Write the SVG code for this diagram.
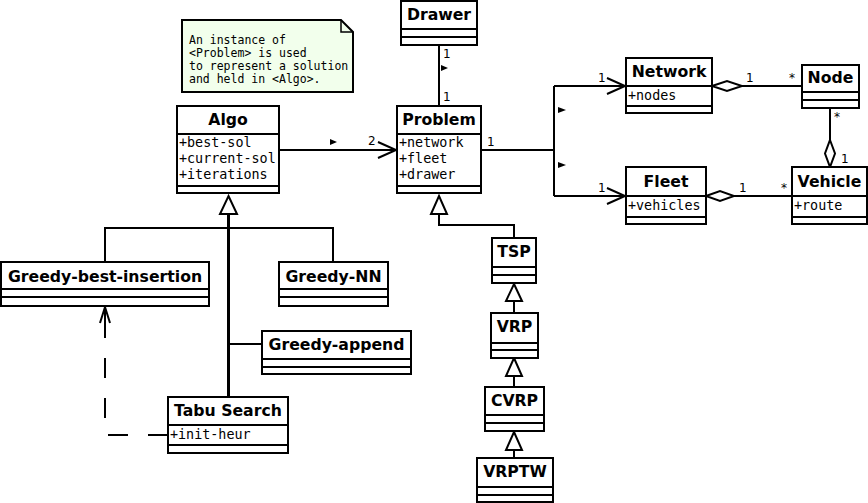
<svg xmlns="http://www.w3.org/2000/svg" width="868" height="503" viewBox="0 0 868 503">
<style>
.box{fill:#fff;stroke:#000;stroke-width:2}
.div{stroke:#000;stroke-width:2}
.hd{font-family:"DejaVu Sans",sans-serif;font-weight:bold;font-size:15.7px;text-anchor:middle;fill:#000}
.at{font-family:"DejaVu Sans Mono",monospace;font-size:13.4px;fill:#000}
.nt{font-family:"DejaVu Sans Mono",monospace;font-size:11.5px;fill:#000}
.lb{font-family:"DejaVu Sans",sans-serif;font-size:12px;fill:#000}
.ln{fill:none;stroke:#000;stroke-width:2}
.tri{fill:#fff;stroke:#000;stroke-width:2}
.dia{fill:#fff;stroke:#000;stroke-width:2}
.mk{fill:#000}
</style>
<rect width="868" height="503" fill="#fff"/>
<g id="note">
<path d="M182,20 H341 L353,32 V92 H182 Z" fill="#f2ffec" stroke="#000" stroke-width="2"/>
<path d="M341,20 V32 H353" fill="none" stroke="#000" stroke-width="1.5"/>
<text class="nt" x="189" y="44">An instance of</text>
<text class="nt" x="189" y="57">&lt;Problem&gt; is used</text>
<text class="nt" x="189" y="70">to represent a solution</text>
<text class="nt" x="189" y="83">and held in &lt;Algo&gt;.</text>
</g>
<g id="connectors">
<line class="ln" x1="439" y1="45" x2="439" y2="106"/>
<polygon class="mk" points="441,65 448,68 441,71"/>
<text class="lb" x="443" y="58">1</text>
<text class="lb" x="443" y="101">1</text>
<line class="ln" x1="279" y1="150" x2="396" y2="150"/>
<polyline class="ln" points="378,142 396,150 378,158"/>
<polygon class="mk" points="330,139 337,142 330,145"/>
<text class="lb" x="368" y="145">2</text>
<path class="ln" d="M481,150 H554 M554,86 V196 M554,86 H625 M554,196 H625"/>
<polyline class="ln" points="607,78 625,86 607,94"/>
<polyline class="ln" points="607,188 625,196 607,204"/>
<polygon class="mk" points="558,107 566,110 558,113"/>
<polygon class="mk" points="558,162 566,165 558,168"/>
<text class="lb" x="487" y="146">1</text>
<text class="lb" x="598" y="82">1</text>
<text class="lb" x="598" y="192">1</text>
<line class="ln" x1="742" y1="86" x2="802" y2="86"/>
<polygon class="dia" points="712,86 727,81 742,86 727,91"/>
<text class="lb" x="746" y="82">1</text>
<text class="lb" x="789" y="82">*</text>
<line class="ln" x1="734" y1="196" x2="792" y2="196"/>
<polygon class="dia" points="706,196 720,191 734,196 720,201"/>
<text class="lb" x="739" y="192">1</text>
<text class="lb" x="781" y="192">*</text>
<line class="ln" x1="830" y1="108" x2="830" y2="140"/>
<polygon class="dia" points="830,140 835,153.5 830,167 825,153.5"/>
<text class="lb" x="834" y="121">*</text>
<text class="lb" x="841" y="163">1</text>
<line x1="228.5" y1="214" x2="228.5" y2="397" stroke="#000" stroke-width="3"/>
<path class="ln" d="M105,262 V228 H333 V262 M228,344 H262"/>
<polygon class="tri" points="228.5,196 237,214 220,214"/>
<path class="ln" d="M439,214 V225 H514 V238"/>
<polygon class="tri" points="439,196 447,214 431,214"/>
<line class="ln" x1="514" y1="301" x2="514" y2="313"/>
<polygon class="tri" points="514,284 522,301 506,301"/>
<line class="ln" x1="514" y1="376" x2="514" y2="387"/>
<polygon class="tri" points="514,358 522,376 506,376"/>
<line class="ln" x1="514" y1="450" x2="514" y2="458"/>
<polygon class="tri" points="514,432 522,450 506,450"/>
<path class="ln" d="M168,435 H105 V307" stroke-dasharray="20,20"/>
<path class="ln" d="M100,323 L105,307 L110,323 M105,307 V322"/>
</g>
<g id="Drawer">
<rect class="box" x="401" y="1" width="76" height="44"/>
<line class="div" x1="401" y1="29" x2="477" y2="29"/>
<line class="div" x1="401" y1="37" x2="477" y2="37"/>
<text class="hd" x="439" y="20">Drawer</text>
</g>
<g id="Algo">
<rect class="box" x="177" y="106" width="102" height="87"/>
<line class="div" x1="177" y1="134" x2="279" y2="134"/>
<line class="div" x1="177" y1="186" x2="279" y2="186"/>
<text class="hd" x="228" y="125">Algo</text>
<text class="at" x="179" y="147">+best-sol</text>
<text class="at" x="179" y="163">+current-sol</text>
<text class="at" x="179" y="179">+iterations</text>
</g>
<g id="Problem">
<rect class="box" x="397" y="106" width="84" height="87"/>
<line class="div" x1="397" y1="134" x2="481" y2="134"/>
<line class="div" x1="397" y1="186" x2="481" y2="186"/>
<text class="hd" x="439" y="125">Problem</text>
<text class="at" x="399" y="147">+network</text>
<text class="at" x="399" y="163">+fleet</text>
<text class="at" x="399" y="179">+drawer</text>
</g>
<g id="Network">
<rect class="box" x="626" y="58" width="86" height="55"/>
<line class="div" x1="626" y1="86" x2="712" y2="86"/>
<line class="div" x1="626" y1="106" x2="712" y2="106"/>
<text class="hd" x="669" y="77">Network</text>
<text class="at" x="628" y="100">+nodes</text>
</g>
<g id="Node">
<rect class="box" x="802" y="65" width="57" height="43"/>
<line class="div" x1="802" y1="92" x2="859" y2="92"/>
<line class="div" x1="802" y1="100" x2="859" y2="100"/>
<text class="hd" x="830.5" y="83">Node</text>
</g>
<g id="Fleet">
<rect class="box" x="626" y="167" width="80" height="57"/>
<line class="div" x1="626" y1="196" x2="706" y2="196"/>
<line class="div" x1="626" y1="217" x2="706" y2="217"/>
<text class="hd" x="666" y="187">Fleet</text>
<text class="at" x="628" y="210">+vehicles</text>
</g>
<g id="Vehicle">
<rect class="box" x="792" y="167" width="75" height="57"/>
<line class="div" x1="792" y1="196" x2="867" y2="196"/>
<line class="div" x1="792" y1="217" x2="867" y2="217"/>
<text class="hd" x="829.5" y="187">Vehicle</text>
<text class="at" x="794" y="210">+route</text>
</g>
<g id="Greedy-best-insertion">
<rect class="box" x="1" y="262" width="208" height="44"/>
<line class="div" x1="1" y1="289" x2="209" y2="289"/>
<line class="div" x1="1" y1="297" x2="209" y2="297"/>
<text class="hd" x="105" y="282">Greedy-best-insertion</text>
</g>
<g id="Greedy-NN">
<rect class="box" x="279" y="262" width="109" height="44"/>
<line class="div" x1="279" y1="289" x2="388" y2="289"/>
<line class="div" x1="279" y1="297" x2="388" y2="297"/>
<text class="hd" x="333.5" y="282">Greedy-NN</text>
</g>
<g id="Greedy-append">
<rect class="box" x="262" y="331" width="149" height="43"/>
<line class="div" x1="262" y1="359" x2="411" y2="359"/>
<line class="div" x1="262" y1="367" x2="411" y2="367"/>
<text class="hd" x="336.5" y="350">Greedy-append</text>
</g>
<g id="TabuSearch">
<rect class="box" x="168" y="397" width="120" height="56"/>
<line class="div" x1="168" y1="425" x2="288" y2="425"/>
<line class="div" x1="168" y1="445" x2="288" y2="445"/>
<text class="hd" x="228" y="416">Tabu Search</text>
<text class="at" x="170" y="439">+init-heur</text>
</g>
<g id="TSP">
<rect class="box" x="492" y="238" width="44" height="45"/>
<line class="div" x1="492" y1="267" x2="536" y2="267"/>
<line class="div" x1="492" y1="275" x2="536" y2="275"/>
<text class="hd" x="514" y="257">TSP</text>
</g>
<g id="VRP">
<rect class="box" x="491" y="313" width="47" height="45"/>
<line class="div" x1="491" y1="343" x2="538" y2="343"/>
<line class="div" x1="491" y1="350" x2="538" y2="350"/>
<text class="hd" x="514.5" y="332">VRP</text>
</g>
<g id="CVRP">
<rect class="box" x="485" y="387" width="59" height="44"/>
<line class="div" x1="485" y1="415" x2="544" y2="415"/>
<line class="div" x1="485" y1="423" x2="544" y2="423"/>
<text class="hd" x="514.5" y="406">CVRP</text>
</g>
<g id="VRPTW">
<rect class="box" x="477" y="458" width="76" height="44"/>
<line class="div" x1="477" y1="487" x2="553" y2="487"/>
<line class="div" x1="477" y1="495" x2="553" y2="495"/>
<text class="hd" x="515" y="477">VRPTW</text>
</g>
</svg>
